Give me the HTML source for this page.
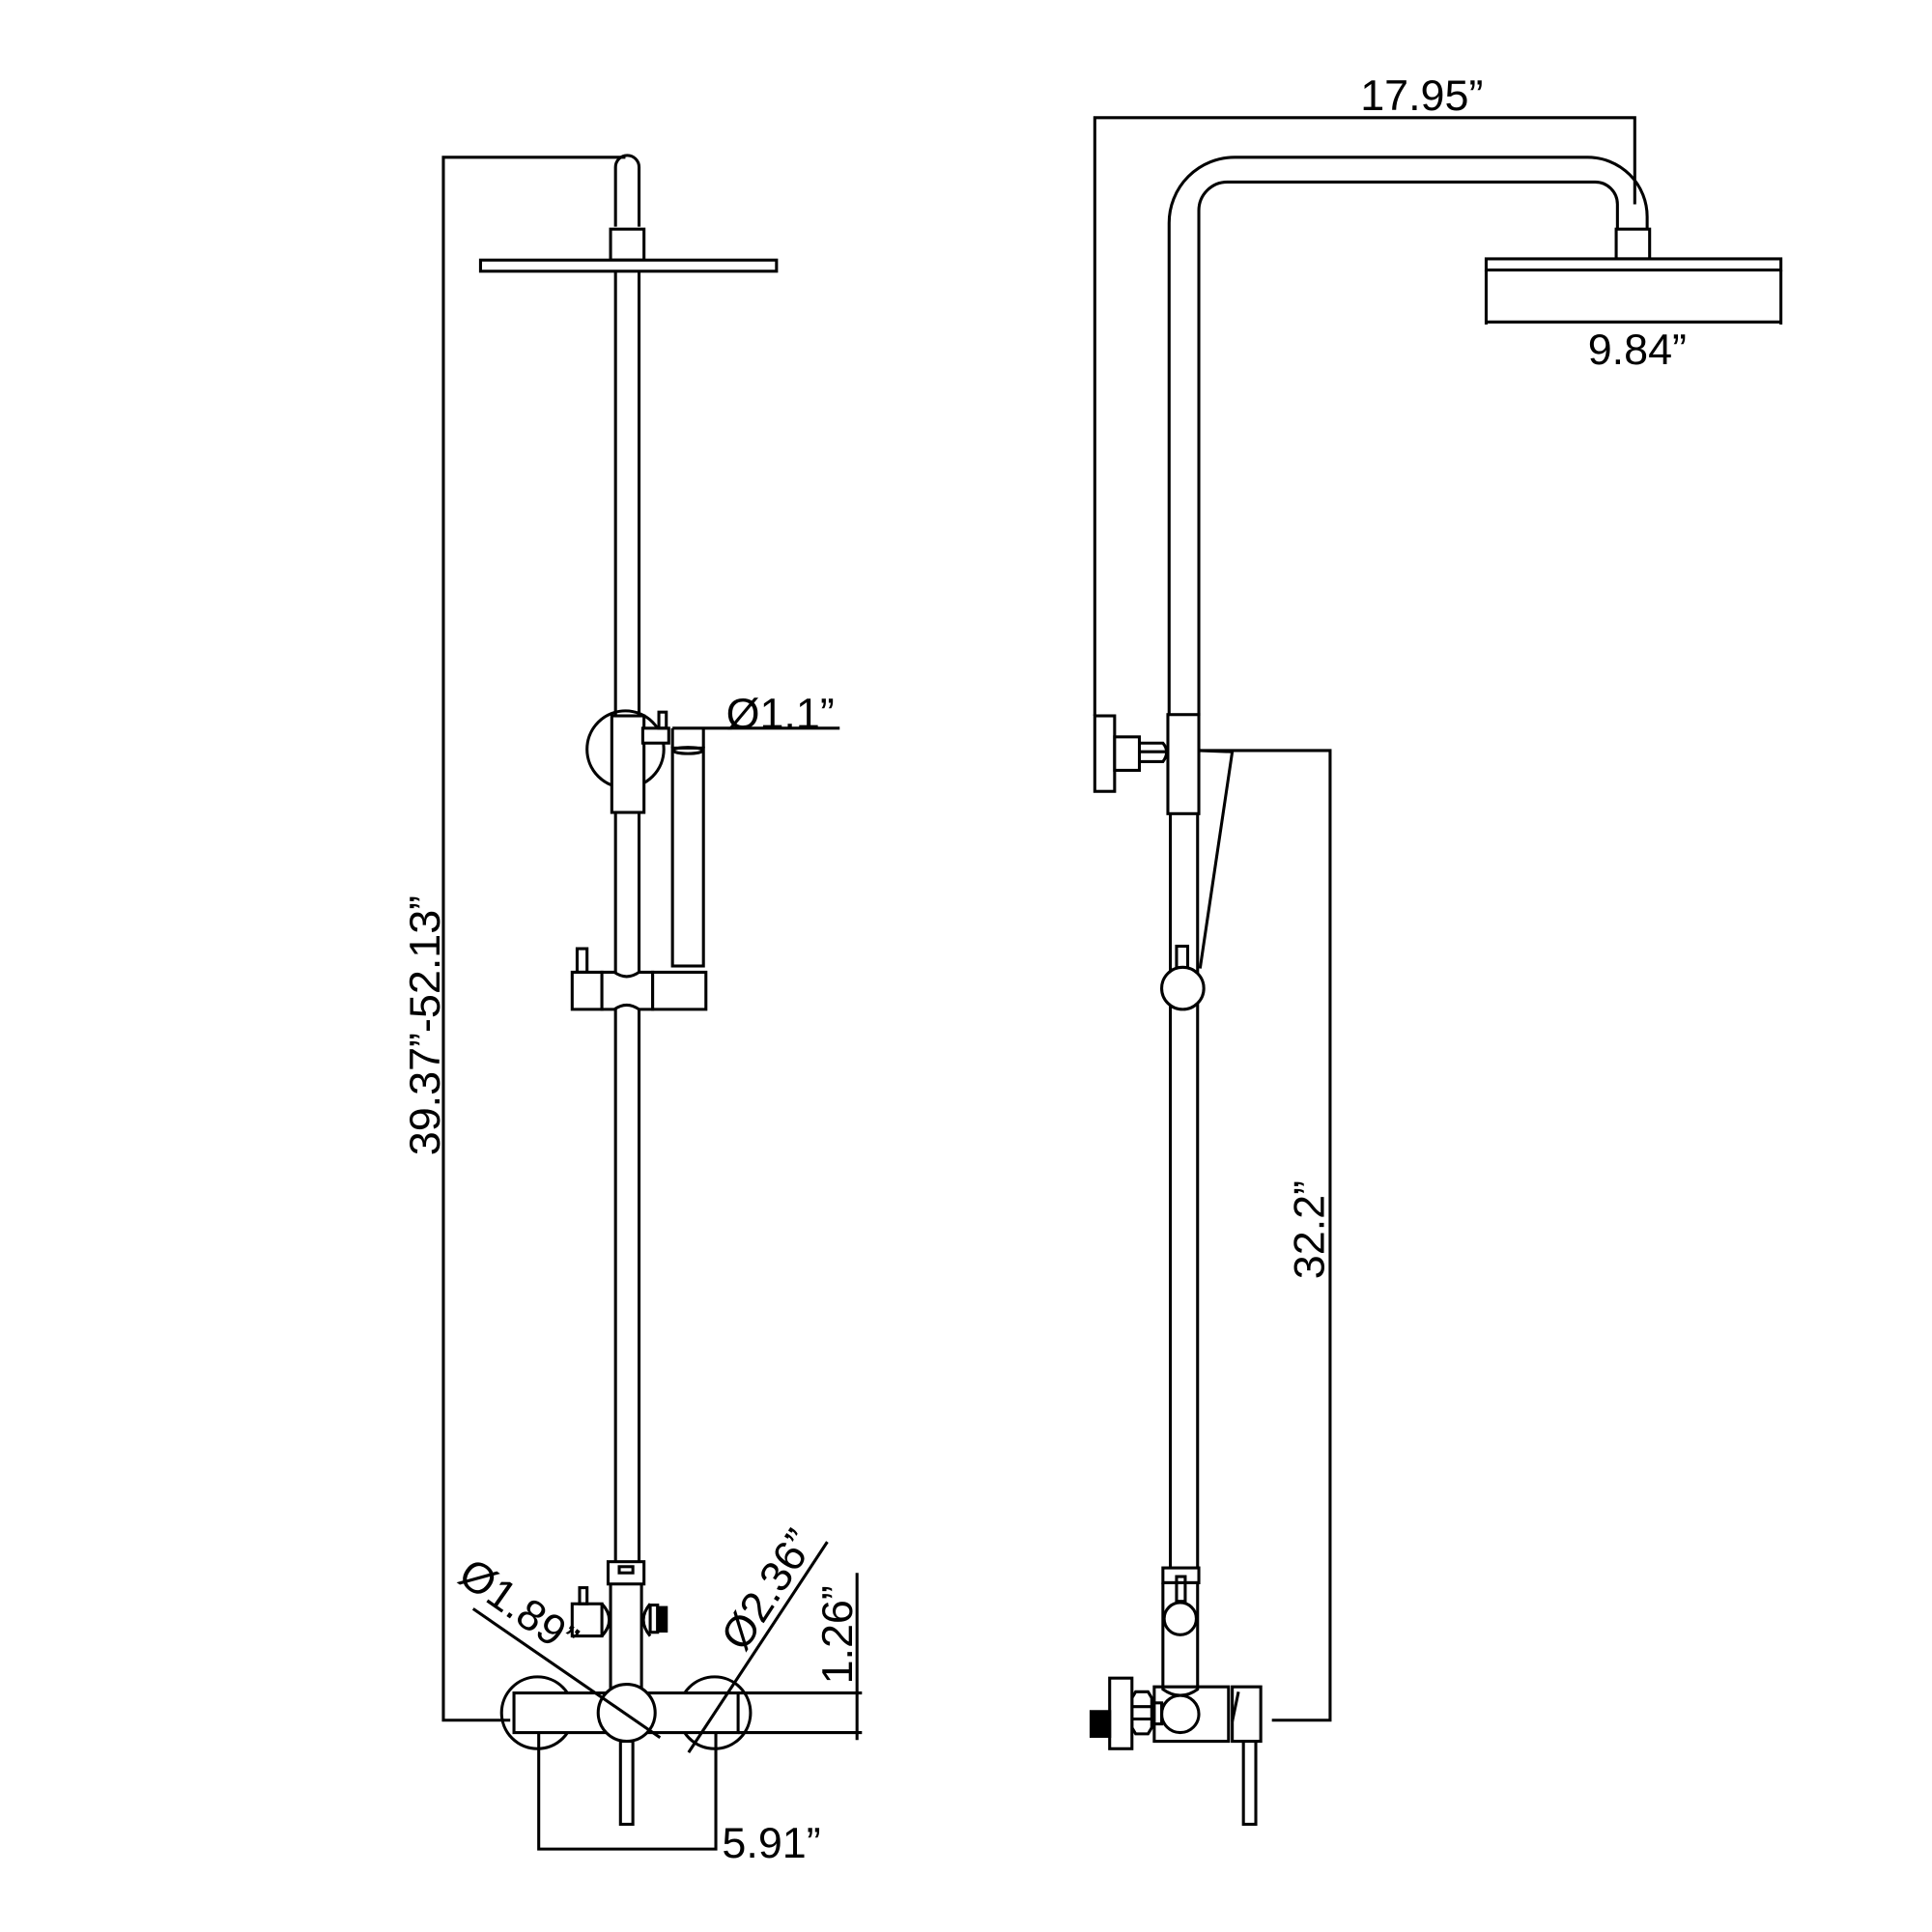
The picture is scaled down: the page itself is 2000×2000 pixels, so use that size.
<!DOCTYPE html>
<html><head><meta charset="utf-8"><style>
html,body{margin:0;padding:0;background:#fff}
svg{display:block}
text{font-family:"Liberation Sans",sans-serif;font-size:35px;fill:#000}
</style></head><body>
<svg width="2000" height="2000" viewBox="0 0 1560 1560" xmlns="http://www.w3.org/2000/svg">
<g fill="none" stroke="#000" stroke-width="2.4">
<polyline points="505,127 358,127 358,1389 412,1389"/>
<path d="M497,183 V135 A9.5,9.5 0 0 1 516,135 V183"/>
<rect x="493" y="185" width="27" height="25" fill="#fff"/>
<rect x="388" y="210" width="239" height="9" fill="#fff"/>
<line x1="497" y1="219" x2="497" y2="578"/>
<line x1="516" y1="219" x2="516" y2="578"/>
<circle cx="505" cy="605" r="31"/>
<rect x="494" y="578" width="26" height="78" fill="#fff"/>
<rect x="519" y="588" width="21" height="12" fill="#fff"/>
<rect x="532" y="575" width="6" height="13"/>
<rect x="543" y="604" width="25" height="176" fill="#fff"/>
<ellipse cx="555.5" cy="606" rx="12" ry="2.5"/>
<line x1="543" y1="588" x2="678" y2="588"/>
<line x1="543" y1="588" x2="543" y2="604"/>
<line x1="568" y1="588" x2="568" y2="604"/>
<line x1="497" y1="656" x2="497" y2="1265"/>
<line x1="516" y1="656" x2="516" y2="1265"/>
<path d="M462,785 H486 V815 H462 Z" fill="#fff"/>
<path d="M486,785 H496 Q506,792 516,785 H527 V815 H516 Q506,808 496,815 H486 Z" fill="#fff"/>
<path d="M527,785 H570 V815 H527 Z" fill="#fff"/>
<rect x="466" y="766" width="8" height="19"/>
<rect x="491" y="1261" width="29" height="18" fill="#fff"/>
<rect x="500" y="1265" width="11" height="5"/>
<line x1="493" y1="1279" x2="493" y2="1367"/>
<line x1="518" y1="1279" x2="518" y2="1367"/>
<rect x="462" y="1295" width="24" height="26" fill="#fff"/>
<rect x="468" y="1282" width="6" height="13"/>
<path d="M486,1295 Q498,1308 486,1321"/>
<path d="M525,1295 Q514,1308 525,1321"/>
<rect x="525" y="1296" width="6" height="22"/>
<rect x="531" y="1298" width="7" height="19" fill="#000"/>
<circle cx="434" cy="1383" r="29"/>
<circle cx="577" cy="1383" r="29"/>
<rect x="415" y="1367" width="181" height="32" fill="#fff"/>
<circle cx="506" cy="1383" r="23" fill="#fff"/>
<rect x="501" y="1406" width="10" height="67" fill="#fff"/>
<line x1="382" y1="1299" x2="533" y2="1403"/>
<line x1="556" y1="1415" x2="668" y2="1245"/>
<line x1="596" y1="1367" x2="696" y2="1367"/>
<line x1="596" y1="1399" x2="696" y2="1399"/>
<line x1="692" y1="1270" x2="692" y2="1405"/>
<polyline points="435,1400 435,1493 578,1493 578,1400"/>

<polyline points="884,578 884,95 1320,95 1320,165"/>
<path d="M944,578 V180 A53,53 0 0 1 997,127 H1282 A48,48 0 0 1 1330,175 V185"/>
<path d="M968,578 V170 A23,23 0 0 1 991,147 H1288 A18,18 0 0 1 1306,165 V185"/>
<rect x="1305" y="185" width="27" height="24" fill="#fff"/>
<rect x="1200" y="209" width="238" height="9" fill="#fff"/>
<line x1="1200" y1="218" x2="1200" y2="262"/>
<line x1="1438" y1="218" x2="1438" y2="262"/>
<line x1="1200" y1="260" x2="1438" y2="260"/>
<rect x="943" y="577" width="25" height="80" fill="#fff"/>
<rect x="884" y="578" width="16" height="61" fill="#fff"/>
<rect x="900" y="595" width="20" height="27" fill="#fff"/>
<path d="M920,600 H939 Q945,607 939,615 H920"/>
<line x1="920" y1="607" x2="943" y2="607"/>
<polyline points="968,606 1074,606 1074,1389 1027,1389"/>
<line x1="995" y1="607" x2="969" y2="782"/>
<line x1="968" y1="606" x2="995" y2="607"/>
<line x1="945" y1="657" x2="945" y2="1266"/>
<line x1="967" y1="657" x2="967" y2="1266"/>
<rect x="950" y="764" width="9" height="18"/>
<circle cx="955" cy="798" r="17" fill="#fff"/>
<rect x="939" y="1266" width="29" height="12" fill="#fff"/>
<path d="M939,1278 V1364 Q953,1374 967,1364 V1278"/>
<line x1="939" y1="1278" x2="967" y2="1278"/>
<rect x="950" y="1273" width="7" height="20"/>
<circle cx="953" cy="1307" r="13" fill="#fff"/>
<path d="M932,1362 H992 V1406 H932 Z"/>
<circle cx="953" cy="1384" r="15" fill="#fff"/>
<path d="M995,1362 H1018 V1406 H995 Z" fill="#fff"/>
<line x1="1000" y1="1366" x2="995" y2="1390"/>
<rect x="1004" y="1406" width="10" height="67" fill="#fff"/>
<rect x="929" y="1375" width="9" height="17"/>
<path d="M917,1366 H927 L930,1371 V1395 L927,1400 H917 L914,1395 V1371 Z" fill="#fff"/>
<line x1="914" y1="1378" x2="930" y2="1378"/>
<line x1="914" y1="1388" x2="930" y2="1388"/>
<rect x="896" y="1355" width="18" height="57" fill="#fff"/>
<rect x="881" y="1382" width="15" height="20" fill="#000"/>
</g>
<text x="630" y="588" text-anchor="middle">Ø1.1”</text>
<text transform="translate(355,828) rotate(-90)" text-anchor="middle">39.37”-52.13”</text>
<text transform="translate(412,1307) rotate(35)" text-anchor="middle">Ø1.89”</text>
<text transform="translate(630,1290) rotate(-57)" text-anchor="middle">Ø2.36”</text>
<text transform="translate(688,1320) rotate(-90)" text-anchor="middle">1.26”</text>
<text x="583" y="1500">5.91”</text>
<text x="1148" y="89" text-anchor="middle">17.95”</text>
<text x="1322" y="294" text-anchor="middle">9.84”</text>
<text transform="translate(1069,993) rotate(-90)" text-anchor="middle">32.2”</text>
</svg>
</body></html>
